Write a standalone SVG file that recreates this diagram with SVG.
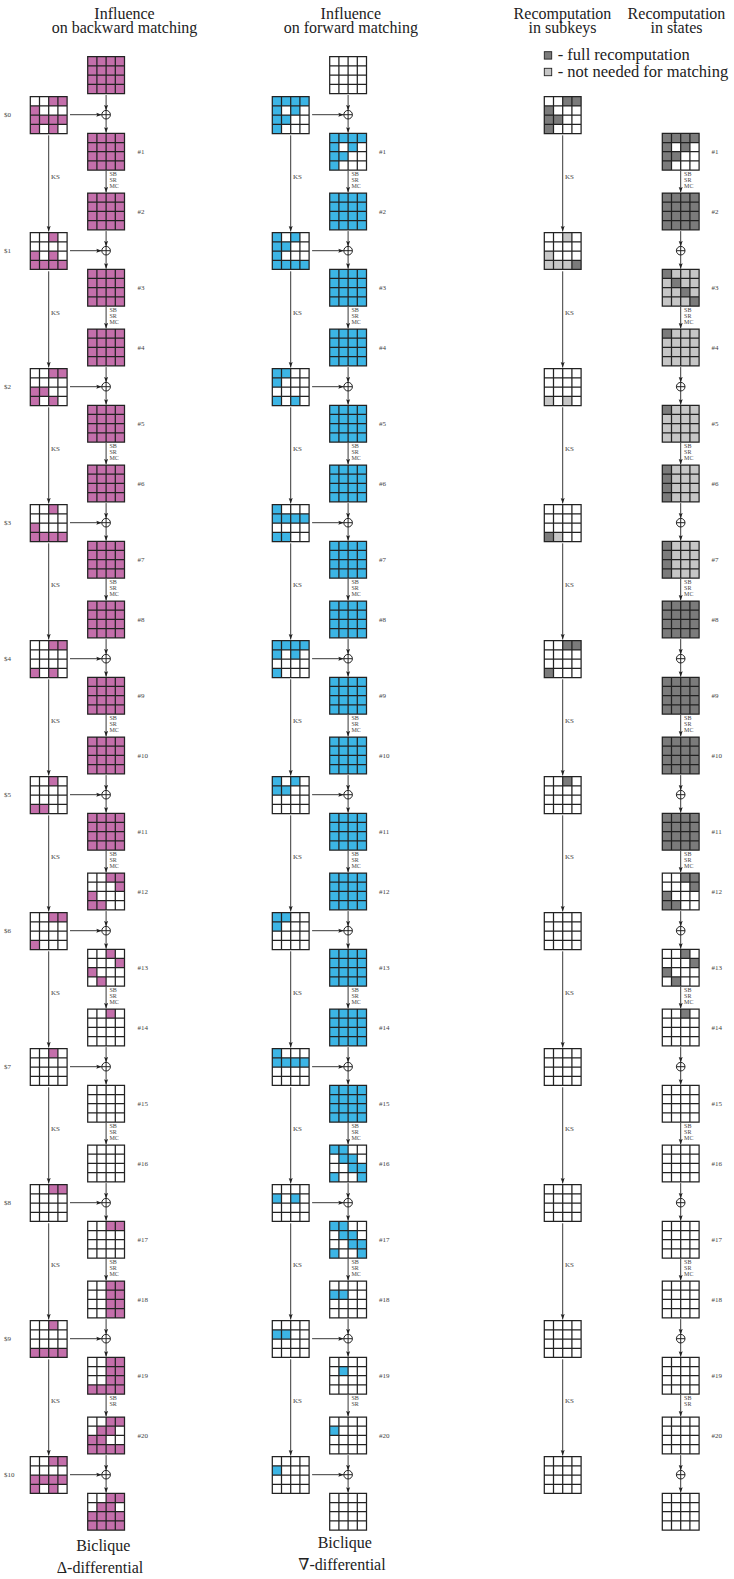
<svg xmlns="http://www.w3.org/2000/svg" xmlns:xlink="http://www.w3.org/1999/xlink" width="734" height="1579" viewBox="0 0 734 1579">
<style>
.g{fill:none;stroke:#222;stroke-width:1.25}
.p{fill:#C46FAB}.b{fill:#3CB5E5}.d{fill:#7B7B7B}.l{fill:#C6C6C6}.w{fill:#fff}
.c{stroke:#222;stroke-width:1;fill:none}
.a{stroke:#222;stroke-width:0.9;marker-end:url(#ah)}
.t{font-family:"Liberation Serif","DejaVu Serif",serif;fill:#222;font-size:16px;text-anchor:middle}
.lg{font-family:"Liberation Serif","DejaVu Serif",serif;fill:#222;font-size:16.5px}
.s{font-family:"Liberation Serif","DejaVu Serif",serif;fill:#444;font-size:7px}
.o{font-size:6px}
</style>
<defs>
<path id="gl" class="g" d="M0 0H36.8V36.8H0Z M9.2 0V36.8M18.4 0V36.8M27.6 0V36.8M0 9.2H36.8M0 18.4H36.8M0 27.6H36.8"/>
<g id="x"><circle r="4.3" class="c"/><path class="c" d="M-4.3 0H4.3M0 -4.3V4.3"/></g>
<marker id="ah" markerUnits="userSpaceOnUse" markerWidth="6" markerHeight="5" refX="5.5" refY="2.5" orient="auto"><path d="M0 0.5L5.5 2.5L0 4.5L1 2.5Z" fill="#222"/></marker>
</defs>
<rect width="734" height="1579" fill="#fff"/>

<g id="headers">
<text class="t" x="124.5" y="18.5">Influence</text>
<text class="t" x="124.5" y="33">on backward matching</text>
<text class="t" x="350.8" y="18.5">Influence</text>
<text class="t" x="350.8" y="33">on forward matching</text>
<text class="t" x="562.5" y="18.5">Recomputation</text>
<text class="t" x="562.5" y="33">in subkeys</text>
<text class="t" x="676.5" y="18.5">Recomputation</text>
<text class="t" x="676.5" y="33">in states</text>
</g>
<g id="legend">
<rect class="d" x="544.3" y="51.7" width="7.4" height="7.4" stroke="#222" stroke-width="0.9"/>
<text class="lg" x="557.7" y="60">- full recomputation</text>
<rect class="l" x="544.3" y="68.3" width="7.4" height="7.4" stroke="#222" stroke-width="0.9"/>
<text class="lg" x="557.7" y="76.5">- not needed for matching</text>
</g>

<g id="connectors">
<!-- column A -->
<line class="a" x1="106.1" y1="95" x2="106.1" y2="110.4"/>
<line class="a" x1="70" y1="114.7" x2="101.8" y2="114.7"/>
<line class="a" x1="70" y1="250.7" x2="101.8" y2="250.7"/>
<line class="a" x1="70" y1="386.7" x2="101.8" y2="386.7"/>
<line class="a" x1="70" y1="522.7" x2="101.8" y2="522.7"/>
<line class="a" x1="70" y1="658.7" x2="101.8" y2="658.7"/>
<line class="a" x1="70" y1="794.7" x2="101.8" y2="794.7"/>
<line class="a" x1="70" y1="930.7" x2="101.8" y2="930.7"/>
<line class="a" x1="70" y1="1066.7" x2="101.8" y2="1066.7"/>
<line class="a" x1="70" y1="1202.7" x2="101.8" y2="1202.7"/>
<line class="a" x1="70" y1="1338.7" x2="101.8" y2="1338.7"/>
<line class="a" x1="70" y1="1474.7" x2="101.8" y2="1474.7"/>
<line class="a" x1="106.1" y1="119" x2="106.1" y2="132.7"/>
<line class="a" x1="106.1" y1="255" x2="106.1" y2="268.7"/>
<line class="a" x1="106.1" y1="391" x2="106.1" y2="404.7"/>
<line class="a" x1="106.1" y1="527" x2="106.1" y2="540.7"/>
<line class="a" x1="106.1" y1="663" x2="106.1" y2="676.7"/>
<line class="a" x1="106.1" y1="799" x2="106.1" y2="812.7"/>
<line class="a" x1="106.1" y1="935" x2="106.1" y2="948.7"/>
<line class="a" x1="106.1" y1="1071" x2="106.1" y2="1084.7"/>
<line class="a" x1="106.1" y1="1207" x2="106.1" y2="1220.7"/>
<line class="a" x1="106.1" y1="1343" x2="106.1" y2="1356.7"/>
<line class="a" x1="106.1" y1="1479" x2="106.1" y2="1492.7"/>
<line class="a" x1="106.1" y1="170.9" x2="106.1" y2="192.4"/>
<line class="a" x1="106.1" y1="306.9" x2="106.1" y2="328.4"/>
<line class="a" x1="106.1" y1="442.9" x2="106.1" y2="464.4"/>
<line class="a" x1="106.1" y1="578.9" x2="106.1" y2="600.4"/>
<line class="a" x1="106.1" y1="714.9" x2="106.1" y2="736.4"/>
<line class="a" x1="106.1" y1="850.9" x2="106.1" y2="872.4"/>
<line class="a" x1="106.1" y1="986.9" x2="106.1" y2="1008.4"/>
<line class="a" x1="106.1" y1="1122.9" x2="106.1" y2="1144.4"/>
<line class="a" x1="106.1" y1="1258.9" x2="106.1" y2="1280.4"/>
<line class="a" x1="106.1" y1="1394.9" x2="106.1" y2="1416.4"/>
<line class="a" x1="106.1" y1="231.1" x2="106.1" y2="246.4"/>
<line class="a" x1="106.1" y1="367.1" x2="106.1" y2="382.4"/>
<line class="a" x1="106.1" y1="503.1" x2="106.1" y2="518.4"/>
<line class="a" x1="106.1" y1="639.1" x2="106.1" y2="654.4"/>
<line class="a" x1="106.1" y1="775.1" x2="106.1" y2="790.4"/>
<line class="a" x1="106.1" y1="911.1" x2="106.1" y2="926.4"/>
<line class="a" x1="106.1" y1="1047.1" x2="106.1" y2="1062.4"/>
<line class="a" x1="106.1" y1="1183.1" x2="106.1" y2="1198.4"/>
<line class="a" x1="106.1" y1="1319.1" x2="106.1" y2="1334.4"/>
<line class="a" x1="106.1" y1="1455.1" x2="106.1" y2="1470.4"/>
<line class="a" x1="48.7" y1="135.3" x2="48.7" y2="231.5"/>
<line class="a" x1="48.7" y1="271.3" x2="48.7" y2="367.5"/>
<line class="a" x1="48.7" y1="407.3" x2="48.7" y2="503.5"/>
<line class="a" x1="48.7" y1="543.3" x2="48.7" y2="639.5"/>
<line class="a" x1="48.7" y1="679.3" x2="48.7" y2="775.5"/>
<line class="a" x1="48.7" y1="815.3" x2="48.7" y2="911.5"/>
<line class="a" x1="48.7" y1="951.3" x2="48.7" y2="1047.5"/>
<line class="a" x1="48.7" y1="1087.3" x2="48.7" y2="1183.5"/>
<line class="a" x1="48.7" y1="1223.3" x2="48.7" y2="1319.5"/>
<line class="a" x1="48.7" y1="1359.3" x2="48.7" y2="1455.5"/>
<!-- column B -->
<line class="a" x1="348.1" y1="95" x2="348.1" y2="110.4"/>
<line class="a" x1="312.1" y1="114.7" x2="343.8" y2="114.7"/>
<line class="a" x1="312.1" y1="250.7" x2="343.8" y2="250.7"/>
<line class="a" x1="312.1" y1="386.7" x2="343.8" y2="386.7"/>
<line class="a" x1="312.1" y1="522.7" x2="343.8" y2="522.7"/>
<line class="a" x1="312.1" y1="658.7" x2="343.8" y2="658.7"/>
<line class="a" x1="312.1" y1="794.7" x2="343.8" y2="794.7"/>
<line class="a" x1="312.1" y1="930.7" x2="343.8" y2="930.7"/>
<line class="a" x1="312.1" y1="1066.7" x2="343.8" y2="1066.7"/>
<line class="a" x1="312.1" y1="1202.7" x2="343.8" y2="1202.7"/>
<line class="a" x1="312.1" y1="1338.7" x2="343.8" y2="1338.7"/>
<line class="a" x1="312.1" y1="1474.7" x2="343.8" y2="1474.7"/>
<line class="a" x1="348.1" y1="119" x2="348.1" y2="132.7"/>
<line class="a" x1="348.1" y1="255" x2="348.1" y2="268.7"/>
<line class="a" x1="348.1" y1="391" x2="348.1" y2="404.7"/>
<line class="a" x1="348.1" y1="527" x2="348.1" y2="540.7"/>
<line class="a" x1="348.1" y1="663" x2="348.1" y2="676.7"/>
<line class="a" x1="348.1" y1="799" x2="348.1" y2="812.7"/>
<line class="a" x1="348.1" y1="935" x2="348.1" y2="948.7"/>
<line class="a" x1="348.1" y1="1071" x2="348.1" y2="1084.7"/>
<line class="a" x1="348.1" y1="1207" x2="348.1" y2="1220.7"/>
<line class="a" x1="348.1" y1="1343" x2="348.1" y2="1356.7"/>
<line class="a" x1="348.1" y1="1479" x2="348.1" y2="1492.7"/>
<line class="a" x1="348.1" y1="170.9" x2="348.1" y2="192.4"/>
<line class="a" x1="348.1" y1="306.9" x2="348.1" y2="328.4"/>
<line class="a" x1="348.1" y1="442.9" x2="348.1" y2="464.4"/>
<line class="a" x1="348.1" y1="578.9" x2="348.1" y2="600.4"/>
<line class="a" x1="348.1" y1="714.9" x2="348.1" y2="736.4"/>
<line class="a" x1="348.1" y1="850.9" x2="348.1" y2="872.4"/>
<line class="a" x1="348.1" y1="986.9" x2="348.1" y2="1008.4"/>
<line class="a" x1="348.1" y1="1122.9" x2="348.1" y2="1144.4"/>
<line class="a" x1="348.1" y1="1258.9" x2="348.1" y2="1280.4"/>
<line class="a" x1="348.1" y1="1394.9" x2="348.1" y2="1416.4"/>
<line class="a" x1="348.1" y1="231.1" x2="348.1" y2="246.4"/>
<line class="a" x1="348.1" y1="367.1" x2="348.1" y2="382.4"/>
<line class="a" x1="348.1" y1="503.1" x2="348.1" y2="518.4"/>
<line class="a" x1="348.1" y1="639.1" x2="348.1" y2="654.4"/>
<line class="a" x1="348.1" y1="775.1" x2="348.1" y2="790.4"/>
<line class="a" x1="348.1" y1="911.1" x2="348.1" y2="926.4"/>
<line class="a" x1="348.1" y1="1047.1" x2="348.1" y2="1062.4"/>
<line class="a" x1="348.1" y1="1183.1" x2="348.1" y2="1198.4"/>
<line class="a" x1="348.1" y1="1319.1" x2="348.1" y2="1334.4"/>
<line class="a" x1="348.1" y1="1455.1" x2="348.1" y2="1470.4"/>
<line class="a" x1="290.7" y1="135.3" x2="290.7" y2="231.5"/>
<line class="a" x1="290.7" y1="271.3" x2="290.7" y2="367.5"/>
<line class="a" x1="290.7" y1="407.3" x2="290.7" y2="503.5"/>
<line class="a" x1="290.7" y1="543.3" x2="290.7" y2="639.5"/>
<line class="a" x1="290.7" y1="679.3" x2="290.7" y2="775.5"/>
<line class="a" x1="290.7" y1="815.3" x2="290.7" y2="911.5"/>
<line class="a" x1="290.7" y1="951.3" x2="290.7" y2="1047.5"/>
<line class="a" x1="290.7" y1="1087.3" x2="290.7" y2="1183.5"/>
<line class="a" x1="290.7" y1="1223.3" x2="290.7" y2="1319.5"/>
<line class="a" x1="290.7" y1="1359.3" x2="290.7" y2="1455.5"/>
<!-- column C -->
<line class="a" x1="680.7" y1="255" x2="680.7" y2="268.7"/>
<line class="a" x1="680.7" y1="391" x2="680.7" y2="404.7"/>
<line class="a" x1="680.7" y1="527" x2="680.7" y2="540.7"/>
<line class="a" x1="680.7" y1="663" x2="680.7" y2="676.7"/>
<line class="a" x1="680.7" y1="799" x2="680.7" y2="812.7"/>
<line class="a" x1="680.7" y1="935" x2="680.7" y2="948.7"/>
<line class="a" x1="680.7" y1="1071" x2="680.7" y2="1084.7"/>
<line class="a" x1="680.7" y1="1207" x2="680.7" y2="1220.7"/>
<line class="a" x1="680.7" y1="1343" x2="680.7" y2="1356.7"/>
<line class="a" x1="680.7" y1="1479" x2="680.7" y2="1492.7"/>
<line class="a" x1="680.7" y1="170.9" x2="680.7" y2="192.4"/>
<line class="a" x1="680.7" y1="306.9" x2="680.7" y2="328.4"/>
<line class="a" x1="680.7" y1="442.9" x2="680.7" y2="464.4"/>
<line class="a" x1="680.7" y1="578.9" x2="680.7" y2="600.4"/>
<line class="a" x1="680.7" y1="714.9" x2="680.7" y2="736.4"/>
<line class="a" x1="680.7" y1="850.9" x2="680.7" y2="872.4"/>
<line class="a" x1="680.7" y1="986.9" x2="680.7" y2="1008.4"/>
<line class="a" x1="680.7" y1="1122.9" x2="680.7" y2="1144.4"/>
<line class="a" x1="680.7" y1="1258.9" x2="680.7" y2="1280.4"/>
<line class="a" x1="680.7" y1="1394.9" x2="680.7" y2="1416.4"/>
<line class="a" x1="680.7" y1="231.1" x2="680.7" y2="246.4"/>
<line class="a" x1="680.7" y1="367.1" x2="680.7" y2="382.4"/>
<line class="a" x1="680.7" y1="503.1" x2="680.7" y2="518.4"/>
<line class="a" x1="680.7" y1="639.1" x2="680.7" y2="654.4"/>
<line class="a" x1="680.7" y1="775.1" x2="680.7" y2="790.4"/>
<line class="a" x1="680.7" y1="911.1" x2="680.7" y2="926.4"/>
<line class="a" x1="680.7" y1="1047.1" x2="680.7" y2="1062.4"/>
<line class="a" x1="680.7" y1="1183.1" x2="680.7" y2="1198.4"/>
<line class="a" x1="680.7" y1="1319.1" x2="680.7" y2="1334.4"/>
<line class="a" x1="680.7" y1="1455.1" x2="680.7" y2="1470.4"/>
<line class="a" x1="562.7" y1="135.3" x2="562.7" y2="231.5"/>
<line class="a" x1="562.7" y1="271.3" x2="562.7" y2="367.5"/>
<line class="a" x1="562.7" y1="407.3" x2="562.7" y2="503.5"/>
<line class="a" x1="562.7" y1="543.3" x2="562.7" y2="639.5"/>
<line class="a" x1="562.7" y1="679.3" x2="562.7" y2="775.5"/>
<line class="a" x1="562.7" y1="815.3" x2="562.7" y2="911.5"/>
<line class="a" x1="562.7" y1="951.3" x2="562.7" y2="1047.5"/>
<line class="a" x1="562.7" y1="1087.3" x2="562.7" y2="1183.5"/>
<line class="a" x1="562.7" y1="1223.3" x2="562.7" y2="1319.5"/>
<line class="a" x1="562.7" y1="1359.3" x2="562.7" y2="1455.5"/>
</g>

<g id="xor-nodes">
<use href="#x" x="106.1" y="114.7"/><use href="#x" x="106.1" y="250.7"/><use href="#x" x="106.1" y="386.7"/><use href="#x" x="106.1" y="522.7"/><use href="#x" x="106.1" y="658.7"/><use href="#x" x="106.1" y="794.7"/><use href="#x" x="106.1" y="930.7"/><use href="#x" x="106.1" y="1066.7"/><use href="#x" x="106.1" y="1202.7"/><use href="#x" x="106.1" y="1338.7"/><use href="#x" x="106.1" y="1474.7"/>
<use href="#x" x="348.1" y="114.7"/><use href="#x" x="348.1" y="250.7"/><use href="#x" x="348.1" y="386.7"/><use href="#x" x="348.1" y="522.7"/><use href="#x" x="348.1" y="658.7"/><use href="#x" x="348.1" y="794.7"/><use href="#x" x="348.1" y="930.7"/><use href="#x" x="348.1" y="1066.7"/><use href="#x" x="348.1" y="1202.7"/><use href="#x" x="348.1" y="1338.7"/><use href="#x" x="348.1" y="1474.7"/>
<use href="#x" x="680.7" y="250.7"/><use href="#x" x="680.7" y="386.7"/><use href="#x" x="680.7" y="522.7"/><use href="#x" x="680.7" y="658.7"/><use href="#x" x="680.7" y="794.7"/><use href="#x" x="680.7" y="930.7"/><use href="#x" x="680.7" y="1066.7"/><use href="#x" x="680.7" y="1202.7"/><use href="#x" x="680.7" y="1338.7"/><use href="#x" x="680.7" y="1474.7"/>
</g>

<!-- Column A : backward (pink) -->
<g id="a-top" transform="translate(87.7 56.7)"><rect class="p" width="36.8" height="36.8"/><use href="#gl"/></g>
<g id="a-k0" transform="translate(30.3 96.7)"><rect class="w" width="36.8" height="36.8"/><rect class="p" x="18.4" width="18.4" height="9.2"/><rect class="p" y="9.2" width="9.2" height="9.2"/><rect class="p" y="18.4" width="36.8" height="9.2"/><rect class="p" y="27.6" width="9.2" height="9.2"/><rect class="p" x="18.4" y="27.6" width="9.2" height="9.2"/><use href="#gl"/></g>
<g id="a-k1" transform="translate(30.3 232.7)"><rect class="w" width="36.8" height="36.8"/><rect class="p" x="18.4" width="9.2" height="9.2"/><rect class="p" y="18.4" width="9.2" height="9.2"/><rect class="p" x="18.4" y="18.4" width="9.2" height="9.2"/><rect class="p" y="27.6" width="36.8" height="9.2"/><use href="#gl"/></g>
<g id="a-k2" transform="translate(30.3 368.7)"><rect class="w" width="36.8" height="36.8"/><rect class="p" x="18.4" width="18.4" height="9.2"/><rect class="p" y="18.4" width="18.4" height="9.2"/><rect class="p" y="27.6" width="9.2" height="9.2"/><rect class="p" x="18.4" y="27.6" width="9.2" height="9.2"/><use href="#gl"/></g>
<g id="a-k3" transform="translate(30.3 504.7)"><rect class="w" width="36.8" height="36.8"/><rect class="p" x="18.4" width="9.2" height="9.2"/><rect class="p" y="18.4" width="9.2" height="9.2"/><rect class="p" y="27.6" width="36.8" height="9.2"/><use href="#gl"/></g>
<g id="a-k4" transform="translate(30.3 640.7)"><rect class="w" width="36.8" height="36.8"/><rect class="p" x="18.4" width="18.4" height="9.2"/><rect class="p" y="27.6" width="9.2" height="9.2"/><rect class="p" x="18.4" y="27.6" width="9.2" height="9.2"/><use href="#gl"/></g>
<g id="a-k5" transform="translate(30.3 776.7)"><rect class="w" width="36.8" height="36.8"/><rect class="p" x="18.4" width="9.2" height="9.2"/><rect class="p" y="27.6" width="18.4" height="9.2"/><use href="#gl"/></g>
<g id="a-k6" transform="translate(30.3 912.7)"><rect class="w" width="36.8" height="36.8"/><rect class="p" x="18.4" width="18.4" height="9.2"/><rect class="p" y="27.6" width="9.2" height="9.2"/><use href="#gl"/></g>
<g id="a-k7" transform="translate(30.3 1048.7)"><rect class="w" width="36.8" height="36.8"/><rect class="p" x="18.4" width="9.2" height="9.2"/><use href="#gl"/></g>
<g id="a-k8" transform="translate(30.3 1184.7)"><rect class="w" width="36.8" height="36.8"/><rect class="p" x="18.4" width="18.4" height="9.2"/><use href="#gl"/></g>
<g id="a-k9" transform="translate(30.3 1320.7)"><rect class="w" width="36.8" height="36.8"/><rect class="p" x="18.4" width="9.2" height="9.2"/><rect class="p" y="27.6" width="36.8" height="9.2"/><use href="#gl"/></g>
<g id="a-k10" transform="translate(30.3 1456.7)"><rect class="w" width="36.8" height="36.8"/><rect class="p" x="18.4" width="18.4" height="9.2"/><rect class="p" y="18.4" width="36.8" height="9.2"/><rect class="p" y="27.6" width="9.2" height="9.2"/><rect class="p" x="18.4" y="27.6" width="9.2" height="9.2"/><use href="#gl"/></g>
<g id="a-s1" transform="translate(87.7 133.3)"><rect class="p" width="36.8" height="36.8"/><use href="#gl"/></g>
<g id="a-s2" transform="translate(87.7 193)"><rect class="p" width="36.8" height="36.8"/><use href="#gl"/></g>
<g id="a-s3" transform="translate(87.7 269.3)"><rect class="p" width="36.8" height="36.8"/><use href="#gl"/></g>
<g id="a-s4" transform="translate(87.7 329)"><rect class="p" width="36.8" height="36.8"/><use href="#gl"/></g>
<g id="a-s5" transform="translate(87.7 405.3)"><rect class="p" width="36.8" height="36.8"/><use href="#gl"/></g>
<g id="a-s6" transform="translate(87.7 465)"><rect class="p" width="36.8" height="36.8"/><use href="#gl"/></g>
<g id="a-s7" transform="translate(87.7 541.3)"><rect class="p" width="36.8" height="36.8"/><use href="#gl"/></g>
<g id="a-s8" transform="translate(87.7 601)"><rect class="p" width="36.8" height="36.8"/><use href="#gl"/></g>
<g id="a-s9" transform="translate(87.7 677.3)"><rect class="p" width="36.8" height="36.8"/><use href="#gl"/></g>
<g id="a-s10" transform="translate(87.7 737)"><rect class="p" width="36.8" height="36.8"/><use href="#gl"/></g>
<g id="a-s11" transform="translate(87.7 813.3)"><rect class="p" width="36.8" height="36.8"/><use href="#gl"/></g>
<g id="a-s12" transform="translate(87.7 873)"><rect class="w" width="36.8" height="36.8"/><rect class="p" x="18.4" width="18.4" height="9.2"/><rect class="p" x="27.6" y="9.2" width="9.2" height="9.2"/><rect class="p" y="18.4" width="9.2" height="9.2"/><rect class="p" y="27.6" width="18.4" height="9.2"/><use href="#gl"/></g>
<g id="a-s13" transform="translate(87.7 949.3)"><rect class="w" width="36.8" height="36.8"/><rect class="p" x="18.4" width="9.2" height="9.2"/><rect class="p" x="27.6" y="9.2" width="9.2" height="9.2"/><rect class="p" y="18.4" width="9.2" height="9.2"/><rect class="p" x="9.2" y="27.6" width="9.2" height="9.2"/><use href="#gl"/></g>
<g id="a-s14" transform="translate(87.7 1009)"><rect class="w" width="36.8" height="36.8"/><rect class="p" x="18.4" width="9.2" height="9.2"/><use href="#gl"/></g>
<g id="a-s15" transform="translate(87.7 1085.3)"><rect class="w" width="36.8" height="36.8"/><use href="#gl"/></g>
<g id="a-s16" transform="translate(87.7 1145)"><rect class="w" width="36.8" height="36.8"/><use href="#gl"/></g>
<g id="a-s17" transform="translate(87.7 1221.3)"><rect class="w" width="36.8" height="36.8"/><rect class="p" x="18.4" width="18.4" height="9.2"/><use href="#gl"/></g>
<g id="a-s18" transform="translate(87.7 1281)"><rect class="w" width="36.8" height="36.8"/><rect class="p" x="18.4" width="18.4" height="36.8"/><use href="#gl"/></g>
<g id="a-s19" transform="translate(87.7 1357.3)"><rect class="w" width="36.8" height="36.8"/><rect class="p" x="18.4" width="18.4" height="27.6"/><rect class="p" y="27.6" width="36.8" height="9.2"/><use href="#gl"/></g>
<g id="a-s20" transform="translate(87.7 1417)"><rect class="w" width="36.8" height="36.8"/><rect class="p" x="18.4" width="18.4" height="9.2"/><rect class="p" x="9.2" y="9.2" width="18.4" height="9.2"/><rect class="p" y="18.4" width="18.4" height="9.2"/><rect class="p" y="27.6" width="36.8" height="9.2"/><use href="#gl"/></g>
<g id="a-fin" transform="translate(87.7 1493.3)"><rect class="w" width="36.8" height="36.8"/><rect class="p" x="18.4" width="18.4" height="9.2"/><rect class="p" x="9.2" y="9.2" width="18.4" height="9.2"/><rect class="p" y="18.4" width="36.8" height="18.4"/><use href="#gl"/></g>

<!-- Column B : forward (blue) -->
<g id="b-top" transform="translate(329.7 56.7)"><rect class="w" width="36.8" height="36.8"/><use href="#gl"/></g>
<g id="b-k0" transform="translate(272.3 96.7)"><rect class="w" width="36.8" height="36.8"/><rect class="b" width="36.8" height="9.2"/><rect class="b" y="9.2" width="9.2" height="27.6"/><rect class="b" x="18.4" y="9.2" width="9.2" height="9.2"/><rect class="b" x="9.2" y="18.4" width="9.2" height="9.2"/><use href="#gl"/></g>
<g id="b-k1" transform="translate(272.3 232.7)"><rect class="w" width="36.8" height="36.8"/><rect class="b" width="9.2" height="36.8"/><rect class="b" x="18.4" width="9.2" height="9.2"/><rect class="b" x="9.2" y="9.2" width="9.2" height="9.2"/><rect class="b" x="9.2" y="27.6" width="27.6" height="9.2"/><use href="#gl"/></g>
<g id="b-k2" transform="translate(272.3 368.7)"><rect class="w" width="36.8" height="36.8"/><rect class="b" width="18.4" height="9.2"/><rect class="b" y="9.2" width="9.2" height="9.2"/><rect class="b" y="27.6" width="9.2" height="9.2"/><rect class="b" x="18.4" y="27.6" width="9.2" height="9.2"/><use href="#gl"/></g>
<g id="b-k3" transform="translate(272.3 504.7)"><rect class="w" width="36.8" height="36.8"/><rect class="b" width="9.2" height="9.2"/><rect class="b" y="9.2" width="36.8" height="9.2"/><rect class="b" y="27.6" width="18.4" height="9.2"/><use href="#gl"/></g>
<g id="b-k4" transform="translate(272.3 640.7)"><rect class="w" width="36.8" height="36.8"/><rect class="b" width="36.8" height="9.2"/><rect class="b" y="9.2" width="9.2" height="9.2"/><rect class="b" x="18.4" y="9.2" width="9.2" height="9.2"/><rect class="b" y="27.6" width="9.2" height="9.2"/><use href="#gl"/></g>
<g id="b-k5" transform="translate(272.3 776.7)"><rect class="w" width="36.8" height="36.8"/><rect class="b" width="9.2" height="18.4"/><rect class="b" x="18.4" width="9.2" height="9.2"/><rect class="b" x="9.2" y="9.2" width="9.2" height="9.2"/><use href="#gl"/></g>
<g id="b-k6" transform="translate(272.3 912.7)"><rect class="w" width="36.8" height="36.8"/><rect class="b" width="18.4" height="9.2"/><rect class="b" y="9.2" width="9.2" height="9.2"/><use href="#gl"/></g>
<g id="b-k7" transform="translate(272.3 1048.7)"><rect class="w" width="36.8" height="36.8"/><rect class="b" width="9.2" height="9.2"/><rect class="b" y="9.2" width="36.8" height="9.2"/><use href="#gl"/></g>
<g id="b-k8" transform="translate(272.3 1184.7)"><rect class="w" width="36.8" height="36.8"/><rect class="b" y="9.2" width="9.2" height="9.2"/><rect class="b" x="18.4" y="9.2" width="9.2" height="9.2"/><use href="#gl"/></g>
<g id="b-k9" transform="translate(272.3 1320.7)"><rect class="w" width="36.8" height="36.8"/><rect class="b" y="9.2" width="18.4" height="9.2"/><use href="#gl"/></g>
<g id="b-k10" transform="translate(272.3 1456.7)"><rect class="w" width="36.8" height="36.8"/><rect class="b" y="9.2" width="9.2" height="9.2"/><use href="#gl"/></g>
<g id="b-s1" transform="translate(329.7 133.3)"><rect class="w" width="36.8" height="36.8"/><rect class="b" width="36.8" height="9.2"/><rect class="b" y="9.2" width="9.2" height="27.6"/><rect class="b" x="18.4" y="9.2" width="9.2" height="9.2"/><rect class="b" x="9.2" y="18.4" width="9.2" height="9.2"/><use href="#gl"/></g>
<g id="b-s2" transform="translate(329.7 193)"><rect class="b" width="36.8" height="36.8"/><use href="#gl"/></g>
<g id="b-s3" transform="translate(329.7 269.3)"><rect class="b" width="36.8" height="36.8"/><use href="#gl"/></g>
<g id="b-s4" transform="translate(329.7 329)"><rect class="b" width="36.8" height="36.8"/><use href="#gl"/></g>
<g id="b-s5" transform="translate(329.7 405.3)"><rect class="b" width="36.8" height="36.8"/><use href="#gl"/></g>
<g id="b-s6" transform="translate(329.7 465)"><rect class="b" width="36.8" height="36.8"/><use href="#gl"/></g>
<g id="b-s7" transform="translate(329.7 541.3)"><rect class="b" width="36.8" height="36.8"/><use href="#gl"/></g>
<g id="b-s8" transform="translate(329.7 601)"><rect class="b" width="36.8" height="36.8"/><use href="#gl"/></g>
<g id="b-s9" transform="translate(329.7 677.3)"><rect class="b" width="36.8" height="36.8"/><use href="#gl"/></g>
<g id="b-s10" transform="translate(329.7 737)"><rect class="b" width="36.8" height="36.8"/><use href="#gl"/></g>
<g id="b-s11" transform="translate(329.7 813.3)"><rect class="b" width="36.8" height="36.8"/><use href="#gl"/></g>
<g id="b-s12" transform="translate(329.7 873)"><rect class="b" width="36.8" height="36.8"/><use href="#gl"/></g>
<g id="b-s13" transform="translate(329.7 949.3)"><rect class="b" width="36.8" height="36.8"/><use href="#gl"/></g>
<g id="b-s14" transform="translate(329.7 1009)"><rect class="b" width="36.8" height="36.8"/><use href="#gl"/></g>
<g id="b-s15" transform="translate(329.7 1085.3)"><rect class="b" width="36.8" height="36.8"/><use href="#gl"/></g>
<g id="b-s16" transform="translate(329.7 1145)"><rect class="w" width="36.8" height="36.8"/><rect class="b" width="18.4" height="9.2"/><rect class="b" x="9.2" y="9.2" width="18.4" height="9.2"/><rect class="b" x="18.4" y="18.4" width="18.4" height="9.2"/><rect class="b" y="27.6" width="9.2" height="9.2"/><rect class="b" x="27.6" y="27.6" width="9.2" height="9.2"/><use href="#gl"/></g>
<g id="b-s17" transform="translate(329.7 1221.3)"><rect class="w" width="36.8" height="36.8"/><rect class="b" width="18.4" height="9.2"/><rect class="b" x="9.2" y="9.2" width="18.4" height="9.2"/><rect class="b" x="18.4" y="18.4" width="18.4" height="9.2"/><rect class="b" y="27.6" width="9.2" height="9.2"/><rect class="b" x="27.6" y="27.6" width="9.2" height="9.2"/><use href="#gl"/></g>
<g id="b-s18" transform="translate(329.7 1281)"><rect class="w" width="36.8" height="36.8"/><rect class="b" y="9.2" width="18.4" height="9.2"/><use href="#gl"/></g>
<g id="b-s19" transform="translate(329.7 1357.3)"><rect class="w" width="36.8" height="36.8"/><rect class="b" x="9.2" y="9.2" width="9.2" height="9.2"/><use href="#gl"/></g>
<g id="b-s20" transform="translate(329.7 1417)"><rect class="w" width="36.8" height="36.8"/><rect class="b" y="9.2" width="9.2" height="9.2"/><use href="#gl"/></g>
<g id="b-fin" transform="translate(329.7 1493.3)"><rect class="w" width="36.8" height="36.8"/><use href="#gl"/></g>

<!-- Column C : recomputation subkeys -->
<g id="c-k0" transform="translate(544.3 96.7)"><rect class="w" width="36.8" height="36.8"/><rect class="d" x="18.4" width="18.4" height="9.2"/><rect class="d" y="9.2" width="9.2" height="27.6"/><rect class="d" x="9.2" y="18.4" width="9.2" height="9.2"/><use href="#gl"/></g>
<g id="c-k1" transform="translate(544.3 232.7)"><rect class="w" width="36.8" height="36.8"/><rect class="l" x="18.4" width="9.2" height="9.2"/><rect class="l" y="18.4" width="9.2" height="18.4"/><rect class="l" x="9.2" y="27.6" width="18.4" height="9.2"/><rect class="d" x="27.6" y="27.6" width="9.2" height="9.2"/><use href="#gl"/></g>
<g id="c-k2" transform="translate(544.3 368.7)"><rect class="w" width="36.8" height="36.8"/><rect class="l" y="27.6" width="9.2" height="9.2"/><rect class="l" x="18.4" y="27.6" width="9.2" height="9.2"/><use href="#gl"/></g>
<g id="c-k3" transform="translate(544.3 504.7)"><rect class="w" width="36.8" height="36.8"/><rect class="d" y="27.6" width="9.2" height="9.2"/><rect class="l" x="9.2" y="27.6" width="9.2" height="9.2"/><use href="#gl"/></g>
<g id="c-k4" transform="translate(544.3 640.7)"><rect class="w" width="36.8" height="36.8"/><rect class="d" x="18.4" width="18.4" height="9.2"/><rect class="d" y="27.6" width="9.2" height="9.2"/><use href="#gl"/></g>
<g id="c-k5" transform="translate(544.3 776.7)"><rect class="w" width="36.8" height="36.8"/><rect class="d" x="18.4" width="9.2" height="9.2"/><use href="#gl"/></g>
<g id="c-k6" transform="translate(544.3 912.7)"><rect class="w" width="36.8" height="36.8"/><use href="#gl"/></g>
<g id="c-k7" transform="translate(544.3 1048.7)"><rect class="w" width="36.8" height="36.8"/><use href="#gl"/></g>
<g id="c-k8" transform="translate(544.3 1184.7)"><rect class="w" width="36.8" height="36.8"/><use href="#gl"/></g>
<g id="c-k9" transform="translate(544.3 1320.7)"><rect class="w" width="36.8" height="36.8"/><use href="#gl"/></g>
<g id="c-k10" transform="translate(544.3 1456.7)"><rect class="w" width="36.8" height="36.8"/><use href="#gl"/></g>

<!-- Column D : recomputation states -->
<g id="d-s1" transform="translate(662.3 133.3)"><rect class="w" width="36.8" height="36.8"/><rect class="d" width="36.8" height="9.2"/><rect class="d" y="9.2" width="9.2" height="27.6"/><rect class="d" x="18.4" y="9.2" width="9.2" height="9.2"/><rect class="d" x="9.2" y="18.4" width="9.2" height="9.2"/><use href="#gl"/></g>
<g id="d-s2" transform="translate(662.3 193)"><rect class="d" width="36.8" height="36.8"/><use href="#gl"/></g>
<g id="d-s3" transform="translate(662.3 269.3)"><rect class="l" width="36.8" height="36.8"/><rect class="d" width="9.2" height="9.2"/><rect class="d" x="9.2" y="9.2" width="9.2" height="9.2"/><rect class="d" x="18.4" y="18.4" width="9.2" height="9.2"/><rect class="d" x="27.6" y="27.6" width="9.2" height="9.2"/><use href="#gl"/></g>
<g id="d-s4" transform="translate(662.3 329)"><rect class="l" width="36.8" height="36.8"/><rect class="d" width="9.2" height="9.2"/><use href="#gl"/></g>
<g id="d-s5" transform="translate(662.3 405.3)"><rect class="l" width="36.8" height="36.8"/><rect class="d" width="9.2" height="9.2"/><use href="#gl"/></g>
<g id="d-s6" transform="translate(662.3 465)"><rect class="l" width="36.8" height="36.8"/><rect class="d" width="9.2" height="36.8"/><use href="#gl"/></g>
<g id="d-s7" transform="translate(662.3 541.3)"><rect class="l" width="36.8" height="36.8"/><rect class="d" width="9.2" height="36.8"/><use href="#gl"/></g>
<g id="d-s8" transform="translate(662.3 601)"><rect class="d" width="36.8" height="36.8"/><use href="#gl"/></g>
<g id="d-s9" transform="translate(662.3 677.3)"><rect class="d" width="36.8" height="36.8"/><use href="#gl"/></g>
<g id="d-s10" transform="translate(662.3 737)"><rect class="d" width="36.8" height="36.8"/><use href="#gl"/></g>
<g id="d-s11" transform="translate(662.3 813.3)"><rect class="d" width="36.8" height="36.8"/><use href="#gl"/></g>
<g id="d-s12" transform="translate(662.3 873)"><rect class="w" width="36.8" height="36.8"/><rect class="d" x="18.4" width="18.4" height="9.2"/><rect class="d" x="27.6" y="9.2" width="9.2" height="9.2"/><rect class="d" y="18.4" width="9.2" height="9.2"/><rect class="d" y="27.6" width="18.4" height="9.2"/><use href="#gl"/></g>
<g id="d-s13" transform="translate(662.3 949.3)"><rect class="w" width="36.8" height="36.8"/><rect class="d" x="18.4" width="9.2" height="9.2"/><rect class="d" x="27.6" y="9.2" width="9.2" height="9.2"/><rect class="d" y="18.4" width="9.2" height="9.2"/><rect class="d" x="9.2" y="27.6" width="9.2" height="9.2"/><use href="#gl"/></g>
<g id="d-s14" transform="translate(662.3 1009)"><rect class="w" width="36.8" height="36.8"/><rect class="d" x="18.4" width="9.2" height="9.2"/><use href="#gl"/></g>
<g id="d-s15" transform="translate(662.3 1085.3)"><rect class="w" width="36.8" height="36.8"/><use href="#gl"/></g>
<g id="d-s16" transform="translate(662.3 1145)"><rect class="w" width="36.8" height="36.8"/><use href="#gl"/></g>
<g id="d-s17" transform="translate(662.3 1221.3)"><rect class="w" width="36.8" height="36.8"/><use href="#gl"/></g>
<g id="d-s18" transform="translate(662.3 1281)"><rect class="w" width="36.8" height="36.8"/><use href="#gl"/></g>
<g id="d-s19" transform="translate(662.3 1357.3)"><rect class="w" width="36.8" height="36.8"/><use href="#gl"/></g>
<g id="d-s20" transform="translate(662.3 1417)"><rect class="w" width="36.8" height="36.8"/><use href="#gl"/></g>
<g id="d-fin" transform="translate(662.3 1493.3)"><rect class="w" width="36.8" height="36.8"/><use href="#gl"/></g>

<g id="labels">
<text class="s" x="4" y="117.2">$0</text><text class="s" x="4" y="253.2">$1</text><text class="s" x="4" y="389.2">$2</text><text class="s" x="4" y="525.2">$3</text><text class="s" x="4" y="661.2">$4</text><text class="s" x="4" y="797.2">$5</text><text class="s" x="4" y="933.2">$6</text><text class="s" x="4" y="1069.2">$7</text><text class="s" x="4" y="1205.2">$8</text><text class="s" x="4" y="1341.2">$9</text><text class="s" x="4" y="1477.2">$10</text>
<text class="s" x="50.9" y="179">KS</text><text class="s" x="50.9" y="315">KS</text><text class="s" x="50.9" y="451">KS</text><text class="s" x="50.9" y="587">KS</text><text class="s" x="50.9" y="723">KS</text><text class="s" x="50.9" y="859">KS</text><text class="s" x="50.9" y="995">KS</text><text class="s" x="50.9" y="1131">KS</text><text class="s" x="50.9" y="1267">KS</text><text class="s" x="50.9" y="1403">KS</text>
<text class="s" x="292.9" y="179">KS</text><text class="s" x="292.9" y="315">KS</text><text class="s" x="292.9" y="451">KS</text><text class="s" x="292.9" y="587">KS</text><text class="s" x="292.9" y="723">KS</text><text class="s" x="292.9" y="859">KS</text><text class="s" x="292.9" y="995">KS</text><text class="s" x="292.9" y="1131">KS</text><text class="s" x="292.9" y="1267">KS</text><text class="s" x="292.9" y="1403">KS</text>
<text class="s" x="564.9" y="179">KS</text><text class="s" x="564.9" y="315">KS</text><text class="s" x="564.9" y="451">KS</text><text class="s" x="564.9" y="587">KS</text><text class="s" x="564.9" y="723">KS</text><text class="s" x="564.9" y="859">KS</text><text class="s" x="564.9" y="995">KS</text><text class="s" x="564.9" y="1131">KS</text><text class="s" x="564.9" y="1267">KS</text><text class="s" x="564.9" y="1403">KS</text>

<text class="s" x="137.5" y="154">#1</text><text class="s" x="137.5" y="213.7">#2</text><text class="s" x="137.5" y="290">#3</text><text class="s" x="137.5" y="349.7">#4</text><text class="s" x="137.5" y="426">#5</text><text class="s" x="137.5" y="485.7">#6</text><text class="s" x="137.5" y="562">#7</text><text class="s" x="137.5" y="621.7">#8</text><text class="s" x="137.5" y="698">#9</text><text class="s" x="137.5" y="757.7">#10</text><text class="s" x="137.5" y="834">#11</text><text class="s" x="137.5" y="893.7">#12</text><text class="s" x="137.5" y="970">#13</text><text class="s" x="137.5" y="1029.7">#14</text><text class="s" x="137.5" y="1106">#15</text><text class="s" x="137.5" y="1165.7">#16</text><text class="s" x="137.5" y="1242">#17</text><text class="s" x="137.5" y="1301.7">#18</text><text class="s" x="137.5" y="1378">#19</text><text class="s" x="137.5" y="1437.7">#20</text>
<text class="s" x="379" y="154">#1</text><text class="s" x="379" y="213.7">#2</text><text class="s" x="379" y="290">#3</text><text class="s" x="379" y="349.7">#4</text><text class="s" x="379" y="426">#5</text><text class="s" x="379" y="485.7">#6</text><text class="s" x="379" y="562">#7</text><text class="s" x="379" y="621.7">#8</text><text class="s" x="379" y="698">#9</text><text class="s" x="379" y="757.7">#10</text><text class="s" x="379" y="834">#11</text><text class="s" x="379" y="893.7">#12</text><text class="s" x="379" y="970">#13</text><text class="s" x="379" y="1029.7">#14</text><text class="s" x="379" y="1106">#15</text><text class="s" x="379" y="1165.7">#16</text><text class="s" x="379" y="1242">#17</text><text class="s" x="379" y="1301.7">#18</text><text class="s" x="379" y="1378">#19</text><text class="s" x="379" y="1437.7">#20</text>
<text class="s" x="711.6" y="154">#1</text><text class="s" x="711.6" y="213.7">#2</text><text class="s" x="711.6" y="290">#3</text><text class="s" x="711.6" y="349.7">#4</text><text class="s" x="711.6" y="426">#5</text><text class="s" x="711.6" y="485.7">#6</text><text class="s" x="711.6" y="562">#7</text><text class="s" x="711.6" y="621.7">#8</text><text class="s" x="711.6" y="698">#9</text><text class="s" x="711.6" y="757.7">#10</text><text class="s" x="711.6" y="834">#11</text><text class="s" x="711.6" y="893.7">#12</text><text class="s" x="711.6" y="970">#13</text><text class="s" x="711.6" y="1029.7">#14</text><text class="s" x="711.6" y="1106">#15</text><text class="s" x="711.6" y="1165.7">#16</text><text class="s" x="711.6" y="1242">#17</text><text class="s" x="711.6" y="1301.7">#18</text><text class="s" x="711.6" y="1378">#19</text><text class="s" x="711.6" y="1437.7">#20</text>

<text class="s o" x="109.5" y="176.3">SB<tspan x="109.5" dy="6">SR</tspan><tspan x="109.5" dy="6">MC</tspan></text>
<text class="s o" x="109.5" y="312.3">SB<tspan x="109.5" dy="6">SR</tspan><tspan x="109.5" dy="6">MC</tspan></text>
<text class="s o" x="109.5" y="448.3">SB<tspan x="109.5" dy="6">SR</tspan><tspan x="109.5" dy="6">MC</tspan></text>
<text class="s o" x="109.5" y="584.3">SB<tspan x="109.5" dy="6">SR</tspan><tspan x="109.5" dy="6">MC</tspan></text>
<text class="s o" x="109.5" y="720.3">SB<tspan x="109.5" dy="6">SR</tspan><tspan x="109.5" dy="6">MC</tspan></text>
<text class="s o" x="109.5" y="856.3">SB<tspan x="109.5" dy="6">SR</tspan><tspan x="109.5" dy="6">MC</tspan></text>
<text class="s o" x="109.5" y="992.3">SB<tspan x="109.5" dy="6">SR</tspan><tspan x="109.5" dy="6">MC</tspan></text>
<text class="s o" x="109.5" y="1128.3">SB<tspan x="109.5" dy="6">SR</tspan><tspan x="109.5" dy="6">MC</tspan></text>
<text class="s o" x="109.5" y="1264.3">SB<tspan x="109.5" dy="6">SR</tspan><tspan x="109.5" dy="6">MC</tspan></text>
<text class="s o" x="109.5" y="1400.3">SB<tspan x="109.5" dy="6">SR</tspan></text>
<text class="s o" x="351.5" y="176.3">SB<tspan x="351.5" dy="6">SR</tspan><tspan x="351.5" dy="6">MC</tspan></text>
<text class="s o" x="351.5" y="312.3">SB<tspan x="351.5" dy="6">SR</tspan><tspan x="351.5" dy="6">MC</tspan></text>
<text class="s o" x="351.5" y="448.3">SB<tspan x="351.5" dy="6">SR</tspan><tspan x="351.5" dy="6">MC</tspan></text>
<text class="s o" x="351.5" y="584.3">SB<tspan x="351.5" dy="6">SR</tspan><tspan x="351.5" dy="6">MC</tspan></text>
<text class="s o" x="351.5" y="720.3">SB<tspan x="351.5" dy="6">SR</tspan><tspan x="351.5" dy="6">MC</tspan></text>
<text class="s o" x="351.5" y="856.3">SB<tspan x="351.5" dy="6">SR</tspan><tspan x="351.5" dy="6">MC</tspan></text>
<text class="s o" x="351.5" y="992.3">SB<tspan x="351.5" dy="6">SR</tspan><tspan x="351.5" dy="6">MC</tspan></text>
<text class="s o" x="351.5" y="1128.3">SB<tspan x="351.5" dy="6">SR</tspan><tspan x="351.5" dy="6">MC</tspan></text>
<text class="s o" x="351.5" y="1264.3">SB<tspan x="351.5" dy="6">SR</tspan><tspan x="351.5" dy="6">MC</tspan></text>
<text class="s o" x="351.5" y="1400.3">SB<tspan x="351.5" dy="6">SR</tspan></text>
<text class="s o" x="684.1" y="176.3">SB<tspan x="684.1" dy="6">SR</tspan><tspan x="684.1" dy="6">MC</tspan></text>
<text class="s o" x="684.1" y="312.3">SB<tspan x="684.1" dy="6">SR</tspan><tspan x="684.1" dy="6">MC</tspan></text>
<text class="s o" x="684.1" y="448.3">SB<tspan x="684.1" dy="6">SR</tspan><tspan x="684.1" dy="6">MC</tspan></text>
<text class="s o" x="684.1" y="584.3">SB<tspan x="684.1" dy="6">SR</tspan><tspan x="684.1" dy="6">MC</tspan></text>
<text class="s o" x="684.1" y="720.3">SB<tspan x="684.1" dy="6">SR</tspan><tspan x="684.1" dy="6">MC</tspan></text>
<text class="s o" x="684.1" y="856.3">SB<tspan x="684.1" dy="6">SR</tspan><tspan x="684.1" dy="6">MC</tspan></text>
<text class="s o" x="684.1" y="992.3">SB<tspan x="684.1" dy="6">SR</tspan><tspan x="684.1" dy="6">MC</tspan></text>
<text class="s o" x="684.1" y="1128.3">SB<tspan x="684.1" dy="6">SR</tspan><tspan x="684.1" dy="6">MC</tspan></text>
<text class="s o" x="684.1" y="1264.3">SB<tspan x="684.1" dy="6">SR</tspan><tspan x="684.1" dy="6">MC</tspan></text>
<text class="s o" x="684.1" y="1400.3">SB<tspan x="684.1" dy="6">SR</tspan></text>
</g>

<g id="footers">
<text class="t" x="103.3" y="1551">Biclique</text>
<text class="t" x="100" y="1573">Δ-differential</text>
<text class="t" x="344.8" y="1548">Biclique</text>
<text class="t" x="342" y="1570">∇-differential</text>
</g>
</svg>
